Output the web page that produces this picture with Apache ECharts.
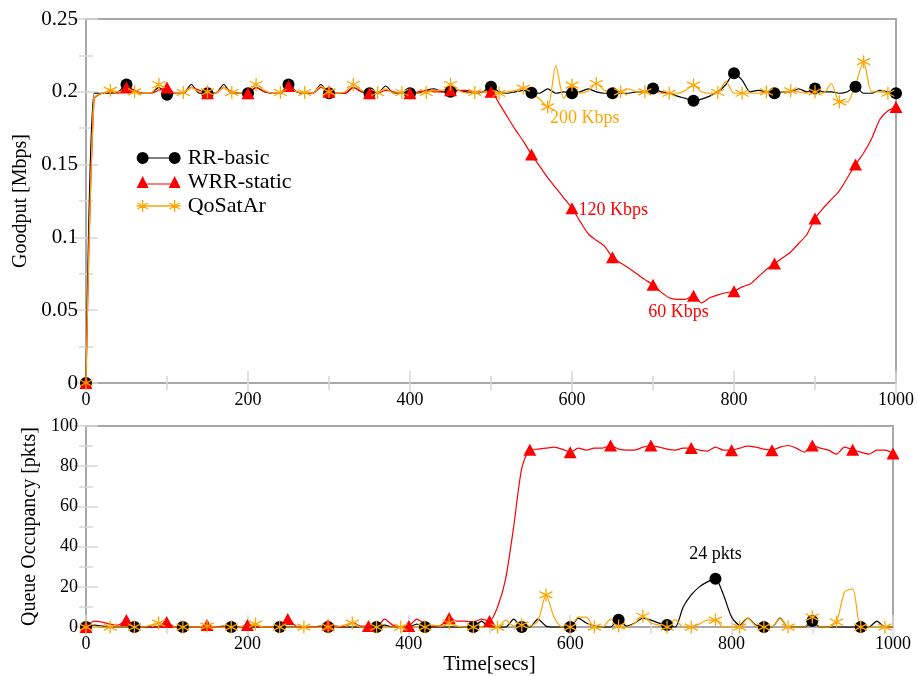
<!DOCTYPE html>
<html>
<head>
<meta charset="utf-8">
<script src="https://cdn.jsdelivr.net/npm/echarts@6/dist/echarts.min.js"></script>
<style>
  html, body { margin: 0; padding: 0; background: #ffffff; }
  #chart { width: 918px; height: 676px; }
</style>
</head>
<body>
<div id="chart"></div>
<script>
// Sample times (seconds)
const time = [
  0, 10, 20, 30, 40, 50, 60, 70, 80, 90,
  100, 110, 120, 130, 140, 150, 160, 170, 180, 190,
  200, 210, 220, 230, 240, 250, 260, 270, 280, 290,
  300, 310, 320, 330, 340, 350, 360, 370, 380, 390,
  400, 410, 420, 430, 440, 450, 460, 470, 480, 490,
  500, 510, 520, 530, 540, 550, 560, 570, 580, 590,
  600, 610, 620, 630, 640, 650, 660, 670, 680, 690,
  700, 710, 720, 730, 740, 750, 760, 770, 780, 790,
  800, 810, 820, 830, 840, 850, 860, 870, 880, 890,
  900, 910, 920, 930, 940, 950, 960, 970, 980, 990,
  1000
];

// Goodput [Mbps]
const goodRR = [
  0, 0.199, 0.199, 0.199, 0.200, 0.205, 0.200, 0.199, 0.199, 0.203,
  0.198, 0.199, 0.199, 0.205, 0.199, 0.199, 0.199, 0.205, 0.199, 0.199,
  0.199, 0.203, 0.200, 0.199, 0.199, 0.205, 0.200, 0.199, 0.199, 0.205,
  0.199, 0.199, 0.199, 0.203, 0.200, 0.199, 0.199, 0.204, 0.199, 0.199,
  0.199, 0.199, 0.201, 0.202, 0.200, 0.200, 0.201, 0.200, 0.199, 0.200,
  0.2035, 0.200, 0.199, 0.200, 0.201, 0.1993, 0.199, 0.202, 0.199, 0.200,
  0.199, 0.200, 0.202, 0.200, 0.199, 0.199, 0.199, 0.199, 0.200, 0.200,
  0.2023, 0.200, 0.199, 0.197, 0.1955, 0.1938, 0.195, 0.197, 0.200, 0.205,
  0.2127, 0.208, 0.200, 0.201, 0.200, 0.199, 0.200, 0.200, 0.202, 0.200,
  0.2022, 0.200, 0.200, 0.199, 0.200, 0.2035, 0.199, 0.199, 0.201, 0.200,
  0.199
];
const goodWRR = [
  0, 0.195, 0.199, 0.200, 0.199, 0.203, 0.201, 0.199, 0.199, 0.201,
  0.203, 0.199, 0.199, 0.203, 0.201, 0.199, 0.199, 0.203, 0.200, 0.199,
  0.199, 0.203, 0.200, 0.199, 0.199, 0.204, 0.200, 0.199, 0.199, 0.203,
  0.200, 0.199, 0.199, 0.203, 0.200, 0.199, 0.199, 0.201, 0.200, 0.199,
  0.199, 0.200, 0.201, 0.200, 0.200, 0.201, 0.201, 0.201, 0.200, 0.200,
  0.200, 0.192, 0.183, 0.174, 0.166, 0.157, 0.149, 0.141, 0.134, 0.127,
  0.120, 0.111, 0.1025, 0.098, 0.094, 0.0863, 0.0825, 0.079, 0.075, 0.071,
  0.0674, 0.0624, 0.0585, 0.0575, 0.0575, 0.060, 0.055, 0.0585, 0.0605, 0.062,
  0.063, 0.066, 0.068, 0.073, 0.078, 0.082, 0.086, 0.090, 0.096, 0.102,
  0.113, 0.120, 0.126, 0.132, 0.141, 0.150, 0.158, 0.168, 0.181, 0.187,
  0.1896
];
const goodQoS = [
  0, 0.196, 0.199, 0.201, 0.200, 0.201, 0.200, 0.199, 0.199, 0.205,
  0.201, 0.199, 0.1995, 0.203, 0.200, 0.200, 0.199, 0.203, 0.1995, 0.199,
  0.200, 0.205, 0.201, 0.199, 0.1995, 0.203, 0.200, 0.1995, 0.199, 0.204,
  0.200, 0.199, 0.200, 0.205, 0.201, 0.199, 0.1995, 0.202, 0.199, 0.1995,
  0.200, 0.199, 0.1995, 0.201, 0.201, 0.205, 0.201, 0.199, 0.1995, 0.200,
  0.200, 0.199, 0.200, 0.201, 0.2025, 0.199, 0.195, 0.1896, 0.218, 0.1955,
  0.2046, 0.199, 0.2005, 0.2057, 0.201, 0.200, 0.200, 0.202, 0.200, 0.200,
  0.200, 0.199, 0.199, 0.199, 0.201, 0.2046, 0.200, 0.199, 0.1995, 0.207,
  0.199, 0.199, 0.199, 0.199, 0.200, 0.200, 0.200, 0.2007, 0.200, 0.199,
  0.200, 0.199, 0.2057, 0.1931, 0.193, 0.205, 0.2207, 0.200, 0.200, 0.199,
  0.199
];

// Queue occupancy [pkts]
const queueRR = [
  0, 1, 0.5, 0, 0, 0, 0, 0, 0, 0,
  0, 0, 0, 0, 0, 0, 0, 0.5, 0, 0,
  0, 0, 0, 0, 0, 0, 0, 0, 0, 0.5,
  0, 0, 0, 0, 0, 0, 0, 1, 0, 0,
  0, 1.5, 0, 0, 0, 0, 0, 0, 0, 3,
  0, 0, 0, 4, 0, 0, 4, 0.5, 0, 0,
  0, 4.5, 2, 0.5, 0, 0, 3.7, 0.5, 2, 4.5,
  3.5, 2, 1, 0, 10, 16, 20, 22.5, 24, 16,
  5, 1, 4.5, 1, 0, 0, 4.5, 0, 0, 0,
  3, 0, 0, 0, 0, 0, 0, 0, 3, 0,
  0
];
const queueWRR = [
  0, 3, 2.5, 1.5, 1, 3.5, 0.5, 0, 0, 0.5,
  2.5, 0, 0, 0, 0, 1, 0, 0, 1, 0,
  1, 0.5, 0, 0, 0, 4, 0.5, 0, 0, 0,
  1, 0.5, 0, 2.5, 0.5, 0.5, 0, 4, 1, 0,
  0.5, 4, 1.5, 0.5, 1, 4.5, 3, 3, 2.5, 4,
  3, 10, 24, 50, 79, 88.2, 88.5, 89, 89.5, 88.5,
  87, 89, 88, 89, 89, 90.3, 88.5, 88, 88, 89.5,
  90.3, 89.5, 88.5, 88, 89, 89, 88, 87.5, 89.5, 88,
  88, 89, 90, 89.5, 88.5, 88, 89.5, 90.3, 89, 87,
  90.3, 89, 88, 86, 89.5, 88.2, 87, 86, 88, 88,
  86.3
];
const queueQoS = [
  0, 0.5, 0, 0, 0, 0, 0, 0, 1, 2,
  0.5, 0, 0, 0, 0, 0.5, 0, 0, 0, 0,
  1, 1.5, 0, 0, 0, 0, 0, 0, 0, 0,
  0, 0, 1, 2, 0, 0, 0, 0, 0, 0,
  0, 0, 0, 1, 0.5, 2, 0.5, 0, 0, 0,
  0, 0, 3.5, 0.5, 1, 0.5, 3, 16, 5, 0,
  0, 5, 5, 0, 0, 4, 0.5, 0, 2, 5.4,
  2, 1, 0, 3.7, 0, 0, 1.5, 3.5, 3.5, 0,
  0, 0, 4.5, 0.5, 0, 0, 4.2, 0, 0, 0,
  5, 0, 0, 2.5, 17.5, 19, 0, 0, 0, 0,
  0
];

const seriesNames = ['RR-basic', 'WRR-static', 'QoSatAr'];
const goodputTicks = [0, 0.05, 0.1, 0.15, 0.2, 0.25];
const queueTicks = [0, 20, 40, 60, 80, 100];
const timeTicks = [0, 200, 400, 600, 800, 1000];

const FONT = 'Liberation Serif';
const BLACK = '#000000';
const RED = '#ff0000';
const ORANGE = '#ffa500';
const TICK = '#d6d6d6';
const ASTERISK = 'path://M0,-10L0,10M-8.66,-5L8.66,5M-8.66,5L8.66,-5';

function valueAxis(grid, pos, ticks, labelSize, extra) {
  const step = ticks[1] - ticks[0];
  return Object.assign({
    type: 'value',
    gridIndex: grid,
    position: pos,
    min: ticks[0],
    max: ticks[ticks.length - 1],
    interval: step,
    axisLine: { show: false },
    axisTick: { show: true, inside: true, length: 12, lineStyle: { color: TICK, width: 1.5 } },
    minorTick: { show: true, splitNumber: 2, length: 7, lineStyle: { color: TICK, width: 1.5 } },
    splitLine: { show: false },
    minorSplitLine: { show: false },
    axisLabel: labelSize ? {
      show: true, margin: 8, color: BLACK, fontFamily: FONT, fontSize: labelSize,
      formatter: v => String(Math.round(v * 1000) / 1000)
    } : { show: false }
  }, extra || {});
}

function pairs(values) {
  return time.map((t, i) => [t, values[i]]);
}

function lineSeries(name, values, grid, symbol, size, every, color, extra) {
  const asterisk = symbol === ASTERISK;
  return Object.assign({
    name: name,
    type: 'line',
    xAxisIndex: grid * 2,
    yAxisIndex: grid * 2,
    data: pairs(values),
    smooth: 0.25,
    showAllSymbol: true,
    symbol: (v, p) => (p.dataIndex % every === 0 ? symbol : 'none'),
    symbolSize: size,
    lineStyle: { color: color, width: 1.2 },
    itemStyle: asterisk
      ? { color: color, borderColor: color, borderWidth: 1.3 }
      : { color: color, borderWidth: 0 },
    emphasis: { disabled: true },
    z: 3
  }, extra || {});
}

function note(coord, text, color, labelExtra) {
  return {
    symbol: 'circle',
    symbolSize: 1,
    silent: true,
    itemStyle: { color: 'rgba(0,0,0,0)' },
    label: Object.assign({
      show: true, formatter: text, color: color, fontFamily: FONT, fontSize: 18
    }, labelExtra),
    data: [{ coord: coord }]
  };
}

const chart = echarts.init(document.getElementById('chart'), null, { renderer: 'canvas' });

const option = {
  animation: false,
  backgroundColor: '#ffffff',
  grid: [
    { left: 86, right: 22, top: 19, height: 364, show: true, borderColor: '#a8a8a8', borderWidth: 2, backgroundColor: 'transparent' },
    { left: 86, right: 25, top: 426, height: 203, show: true, borderColor: '#a8a8a8', borderWidth: 2, backgroundColor: 'transparent' }
  ],
  legend: {
    orient: 'vertical',
    left: 136,
    top: 147,
    padding: 0,
    itemWidth: 44,
    itemHeight: 12,
    itemGap: 2,
    selectedMode: false,
    textStyle: { fontFamily: FONT, fontSize: 22, color: BLACK, padding: [0, 0, 0, 2] },
    data: [
      {
        name: seriesNames[0],
        icon: 'path://M0,6A6,6 0 1,1 12,6A6,6 0 1,1 0,6Z M32,6A6,6 0 1,1 44,6A6,6 0 1,1 32,6Z M6,5.4L38,5.4L38,6.6L6,6.6Z',
        itemStyle: { color: BLACK, borderWidth: 0 }
      },
      {
        name: seriesNames[1],
        icon: 'path://M0,12L6,0L12,12Z M32,12L38,0L44,12Z M6,7.4L38,7.4L38,8.6L6,8.6Z',
        itemStyle: { color: RED, borderWidth: 0 }
      },
      {
        name: seriesNames[2],
        icon: 'path://M0,6L44,6 M6,0L6,12 M0.8,3L11.2,9 M0.8,9L11.2,3 M38,0L38,12 M32.8,3L43.2,9 M32.8,9L43.2,3',
        itemStyle: { color: ORANGE, borderColor: ORANGE, borderWidth: 1.3 }
      }
    ]
  },
  xAxis: [
    valueAxis(0, 'bottom', timeTicks, 18),
    valueAxis(0, 'top', timeTicks, 0),
    valueAxis(1, 'bottom', timeTicks, 18, {
      name: 'Time[secs]', nameLocation: 'middle', nameGap: 23,
      nameTextStyle: { fontFamily: FONT, fontSize: 21, color: BLACK }
    }),
    valueAxis(1, 'top', timeTicks, 0)
  ],
  yAxis: [
    valueAxis(0, 'left', goodputTicks, 21, {
      name: 'Goodput [Mbps]', nameLocation: 'middle', nameGap: 55,
      nameTextStyle: { fontFamily: FONT, fontSize: 20, color: BLACK }
    }),
    valueAxis(0, 'right', goodputTicks, 0),
    valueAxis(1, 'left', queueTicks, 18, {
      name: 'Queue Occupancy [pkts]', nameLocation: 'middle', nameGap: 44,
      nameTextStyle: { fontFamily: FONT, fontSize: 20, color: BLACK }
    }),
    valueAxis(1, 'right', queueTicks, 0)
  ],
  series: [
    lineSeries(seriesNames[0], goodRR, 0, 'circle', 12, 5, BLACK),
    lineSeries(seriesNames[1], goodWRR, 0, 'triangle', [13, 12], 5, RED, {
      markPoint: {
        symbol: 'circle', symbolSize: 1, silent: true,
        itemStyle: { color: 'rgba(0,0,0,0)' },
        label: { show: true, color: RED, fontFamily: FONT, fontSize: 18 },
        data: [
          { coord: [time[60], goodWRR[60]], label: { formatter: '120 Kbps', position: 'right', distance: 6, offset: [0, 2] } },
          { coord: [time[75], goodWRR[75]], label: { formatter: '60 Kbps', position: 'inside', offset: [-15, 17] } }
        ]
      }
    }),
    lineSeries(seriesNames[2], goodQoS, 0, ASTERISK, 13, 3, ORANGE, {
      markPoint: note([time[57], goodQoS[57]], '200 Kbps', ORANGE, { position: 'inside', offset: [37, 11] })
    }),
    lineSeries(seriesNames[0], queueRR, 1, 'circle', 12, 6, BLACK, {
      markPoint: note([time[78], queueRR[78]], '24 pkts', BLACK, { position: 'inside', offset: [0, -25] })
    }),
    lineSeries(seriesNames[1], queueWRR, 1, 'triangle', [13, 12], 5, RED),
    lineSeries(seriesNames[2], queueQoS, 1, ASTERISK, 13, 3, ORANGE)
  ]
};

chart.setOption(option);
</script>
</body>
</html>
